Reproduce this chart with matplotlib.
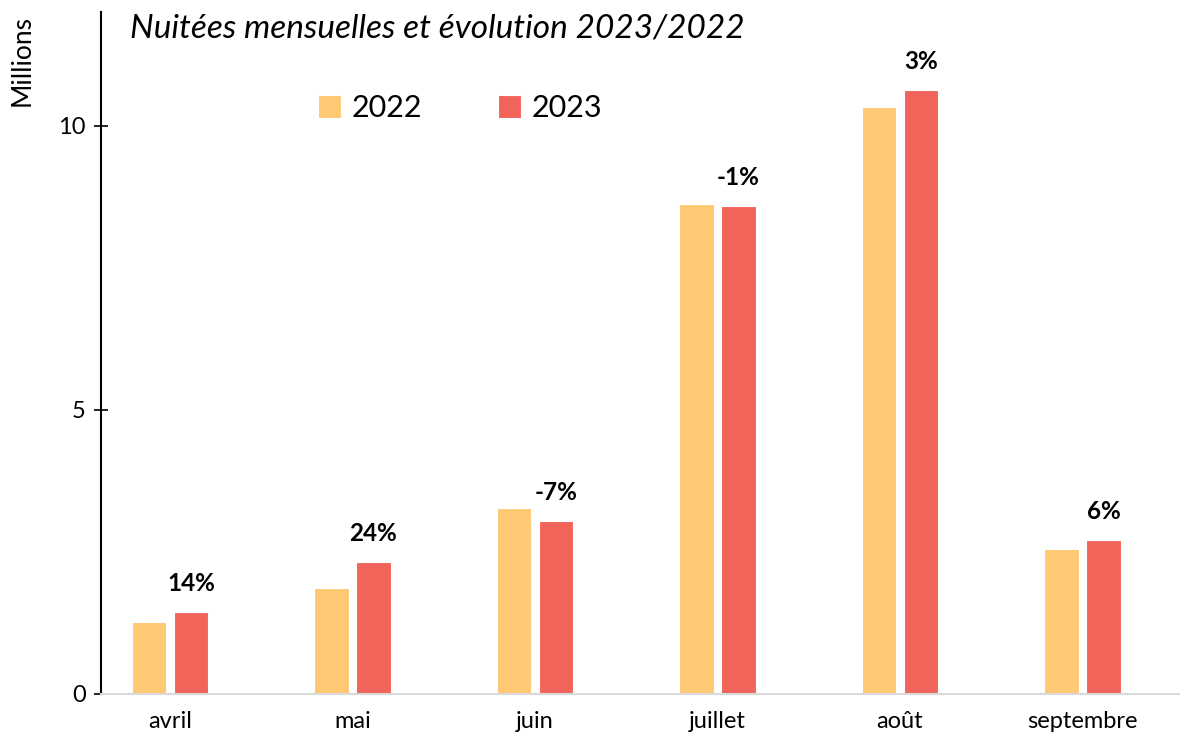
import matplotlib.pyplot as plt
import numpy as np

# data (millions of nights)
months = ['avril', 'mai', 'juin', 'juillet', 'août', 'septembre']
nights_2022 = [1.27, 1.87, 3.27, 8.63, 10.32, 2.55]
nights_2023 = [1.45, 2.32, 3.05, 8.59, 10.63, 2.71]
evolution = ['14%', '24%', '-7%', '-1%', '3%', '6%']

col2022 = '#FFC973'
col2023 = '#F2645A'

plt.rcParams['font.family'] = ['Lato', 'DejaVu Sans']

fig = plt.figure(figsize=(11.8, 7.4), dpi=100)
ax = fig.add_axes([0.0856, 0.0622, 0.9144, 0.9216])

x = np.arange(len(months))
w = 0.19
ax.bar(x - 0.115, nights_2022, w, color=col2022, edgecolor='white', linewidth=0.8, label='2022')
ax.bar(x + 0.115, nights_2023, w, color=col2023, edgecolor='white', linewidth=0.8, label='2023')

#percentage labels above the 2023 bars
for i in range(len(months)):
    ax.text(x[i] + 0.115, nights_2023[i] + 0.3, evolution[i], ha='center', va='bottom',
            fontsize=17.5, fontweight='bold')

ax.set_xlim(-0.378, 5.534)
ax.set_ylim(0, 12)
ax.set_yticks([0, 5, 10])
ax.set_xticks(x)
ax.set_xticklabels(months, fontsize=17)
ax.tick_params(axis='y', direction='inout', length=10, width=1.2, labelsize=17, pad=6)
ax.tick_params(axis='x', length=0, pad=12)

ax.spines['top'].set_visible(False)
ax.spines['right'].set_visible(False)
ax.spines['left'].set_linewidth(1.5)
ax.spines['bottom'].set_color('#d9d9d9')
ax.spines['bottom'].set_linewidth(1.5)

ax.legend(loc='center', bbox_to_anchor=(0.333, 0.859), ncol=2, frameon=False,
          fontsize=22, handlelength=0.75, handleheight=0.75, handletextpad=0.35,
          columnspacing=2.5)

fig.text(0.11, 0.962, 'Nuitées mensuelles et évolution 2023/2022', fontsize=24,
         style='italic', va='center', ha='left')
fig.text(0.019, 0.918, 'Millions', rotation=90, fontsize=19, va='center', ha='center')

plt.savefig('out.png')
